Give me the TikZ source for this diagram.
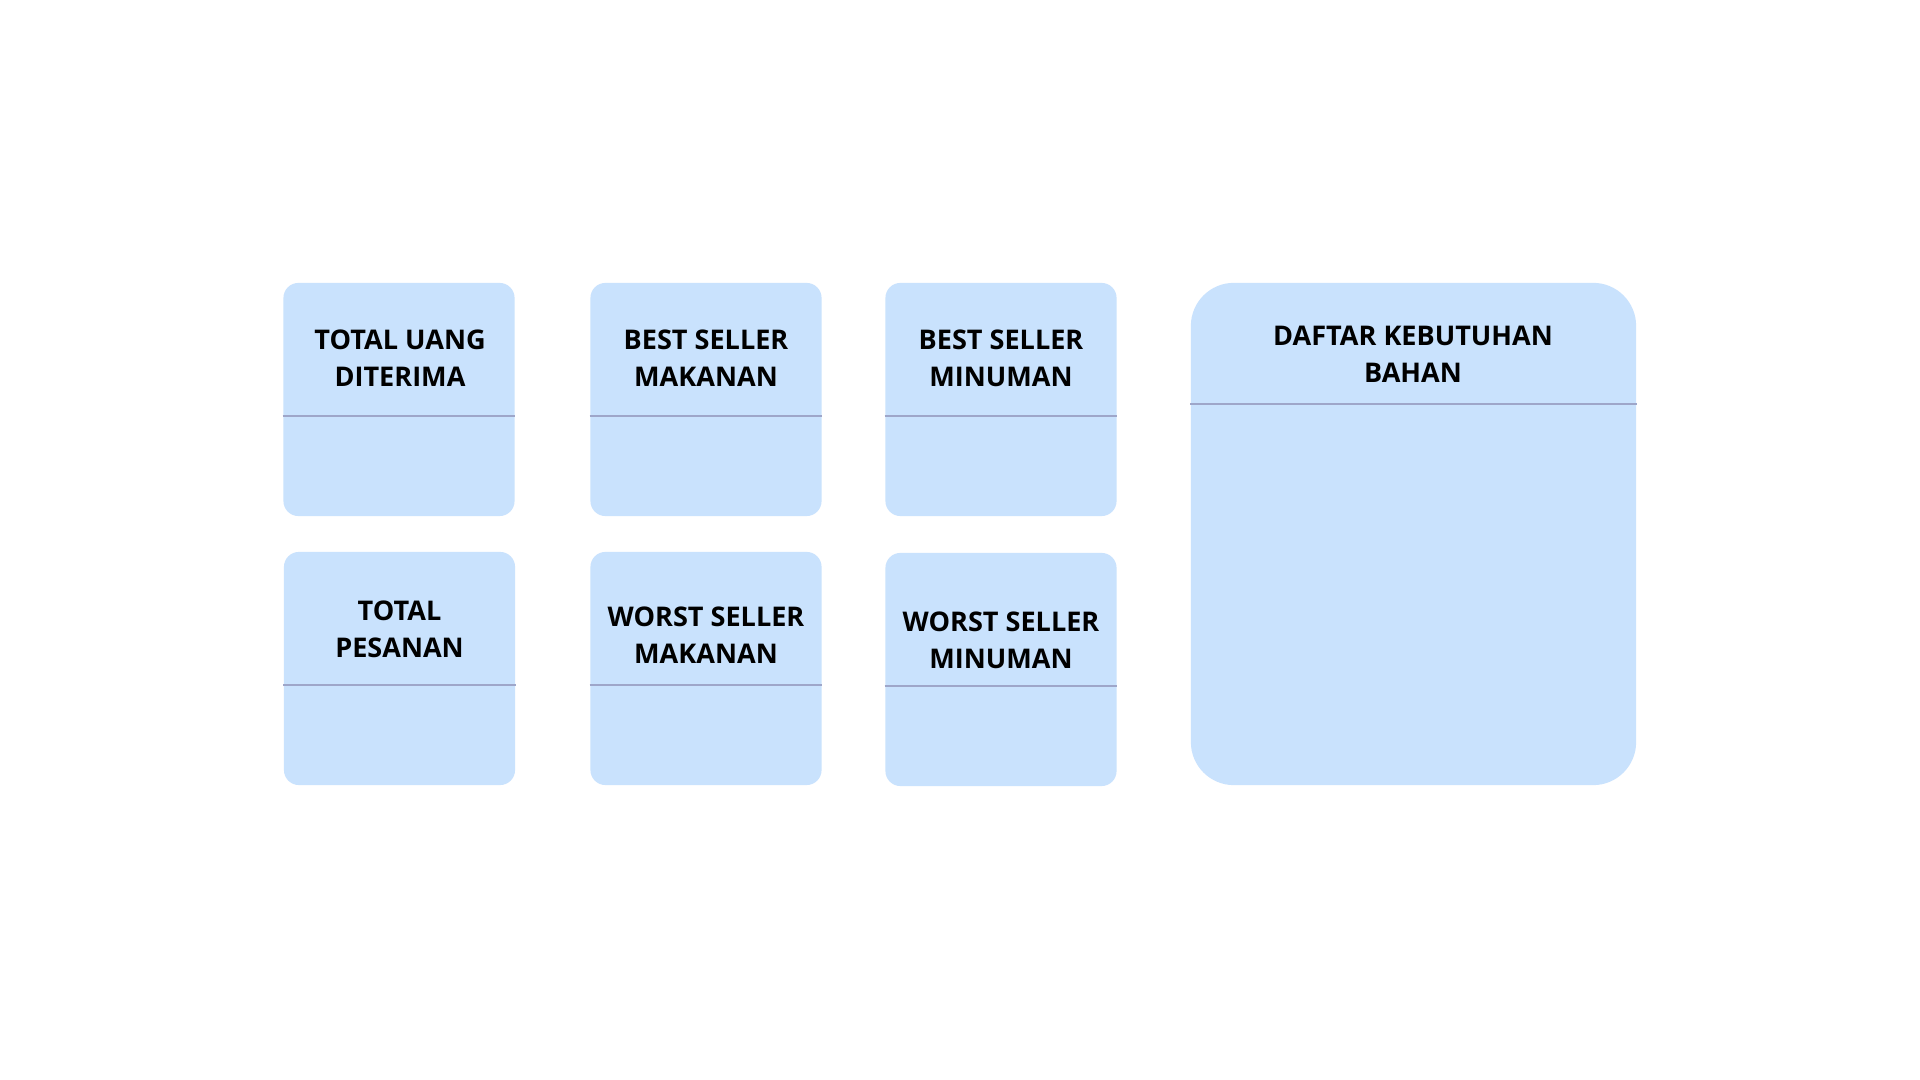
\documentclass[tikz,border=0pt]{standalone}
\usepackage{fontspec}
\setmainfont{Open Sans}
\definecolor{kartu}{HTML}{C9E2FD}
\definecolor{garis}{HTML}{9EA6C9}
\tikzset{
  kartu/.style={fill=kartu,rounded corners=0.15cm,inner sep=0pt,minimum width=2.31cm,minimum height=2.33cm},
  judul/.style={align=center,font=\fontsize{7.7}{10.5}\selectfont\bfseries},
  pembatas/.style={draw=garis,line width=0.4pt}
}
\begin{document}
\begin{tikzpicture}[x=0.01cm,y=-0.01cm]
\useasboundingbox[fill=white](0,0)rectangle(1920,1080);
% baris atas
\node[kartu](uang) at (399,399.5){};
\node[kartu](bsmakan) at (706,399.5){};
\node[kartu](bsminum) at (1001,399.5){};
% baris bawah
\node[kartu](pesanan) at (399.5,668.5){};
\node[kartu](wsmakan) at (706,668.5){};
\node[kartu](wsminum) at (1001,669.5){};
% daftar bahan
\node[kartu,rounded corners=0.43cm,minimum width=4.45cm,minimum height=5.02cm](bahan) at (1413.5,534){};
\node[judul](uangT) at (400,358.5){TOTAL UANG\\DITERIMA};
\node[judul](bsmakanT) at (706,358.5){BEST SELLER\\MAKANAN};
\node[judul](bsminumT) at (1001,358.5){BEST SELLER\\MINUMAN};
\node[judul](pesananT) at (399.5,629){TOTAL\\PESANAN};
\node[judul](wsmakanT) at (706,635){WORST SELLER\\MAKANAN};
\node[judul](wsminumT) at (1001,640){WORST SELLER\\MINUMAN};
\node[judul](bahanT) at (1413,354){DAFTAR KEBUTUHAN\\BAHAN};
\draw[pembatas](uang.west|-0,416)--(uang.east|-0,416);
\draw[pembatas](bsmakan.west|-0,416)--(bsmakan.east|-0,416);
\draw[pembatas](bsminum.west|-0,416)--(bsminum.east|-0,416);
\draw[pembatas](pesanan.west|-0,685)--(pesanan.east|-0,685);
\draw[pembatas](wsmakan.west|-0,685)--(wsmakan.east|-0,685);
\draw[pembatas](wsminum.west|-0,686)--(wsminum.east|-0,686);
\draw[pembatas](bahan.west|-0,404)--(bahan.east|-0,404);
\end{tikzpicture}
\end{document}
